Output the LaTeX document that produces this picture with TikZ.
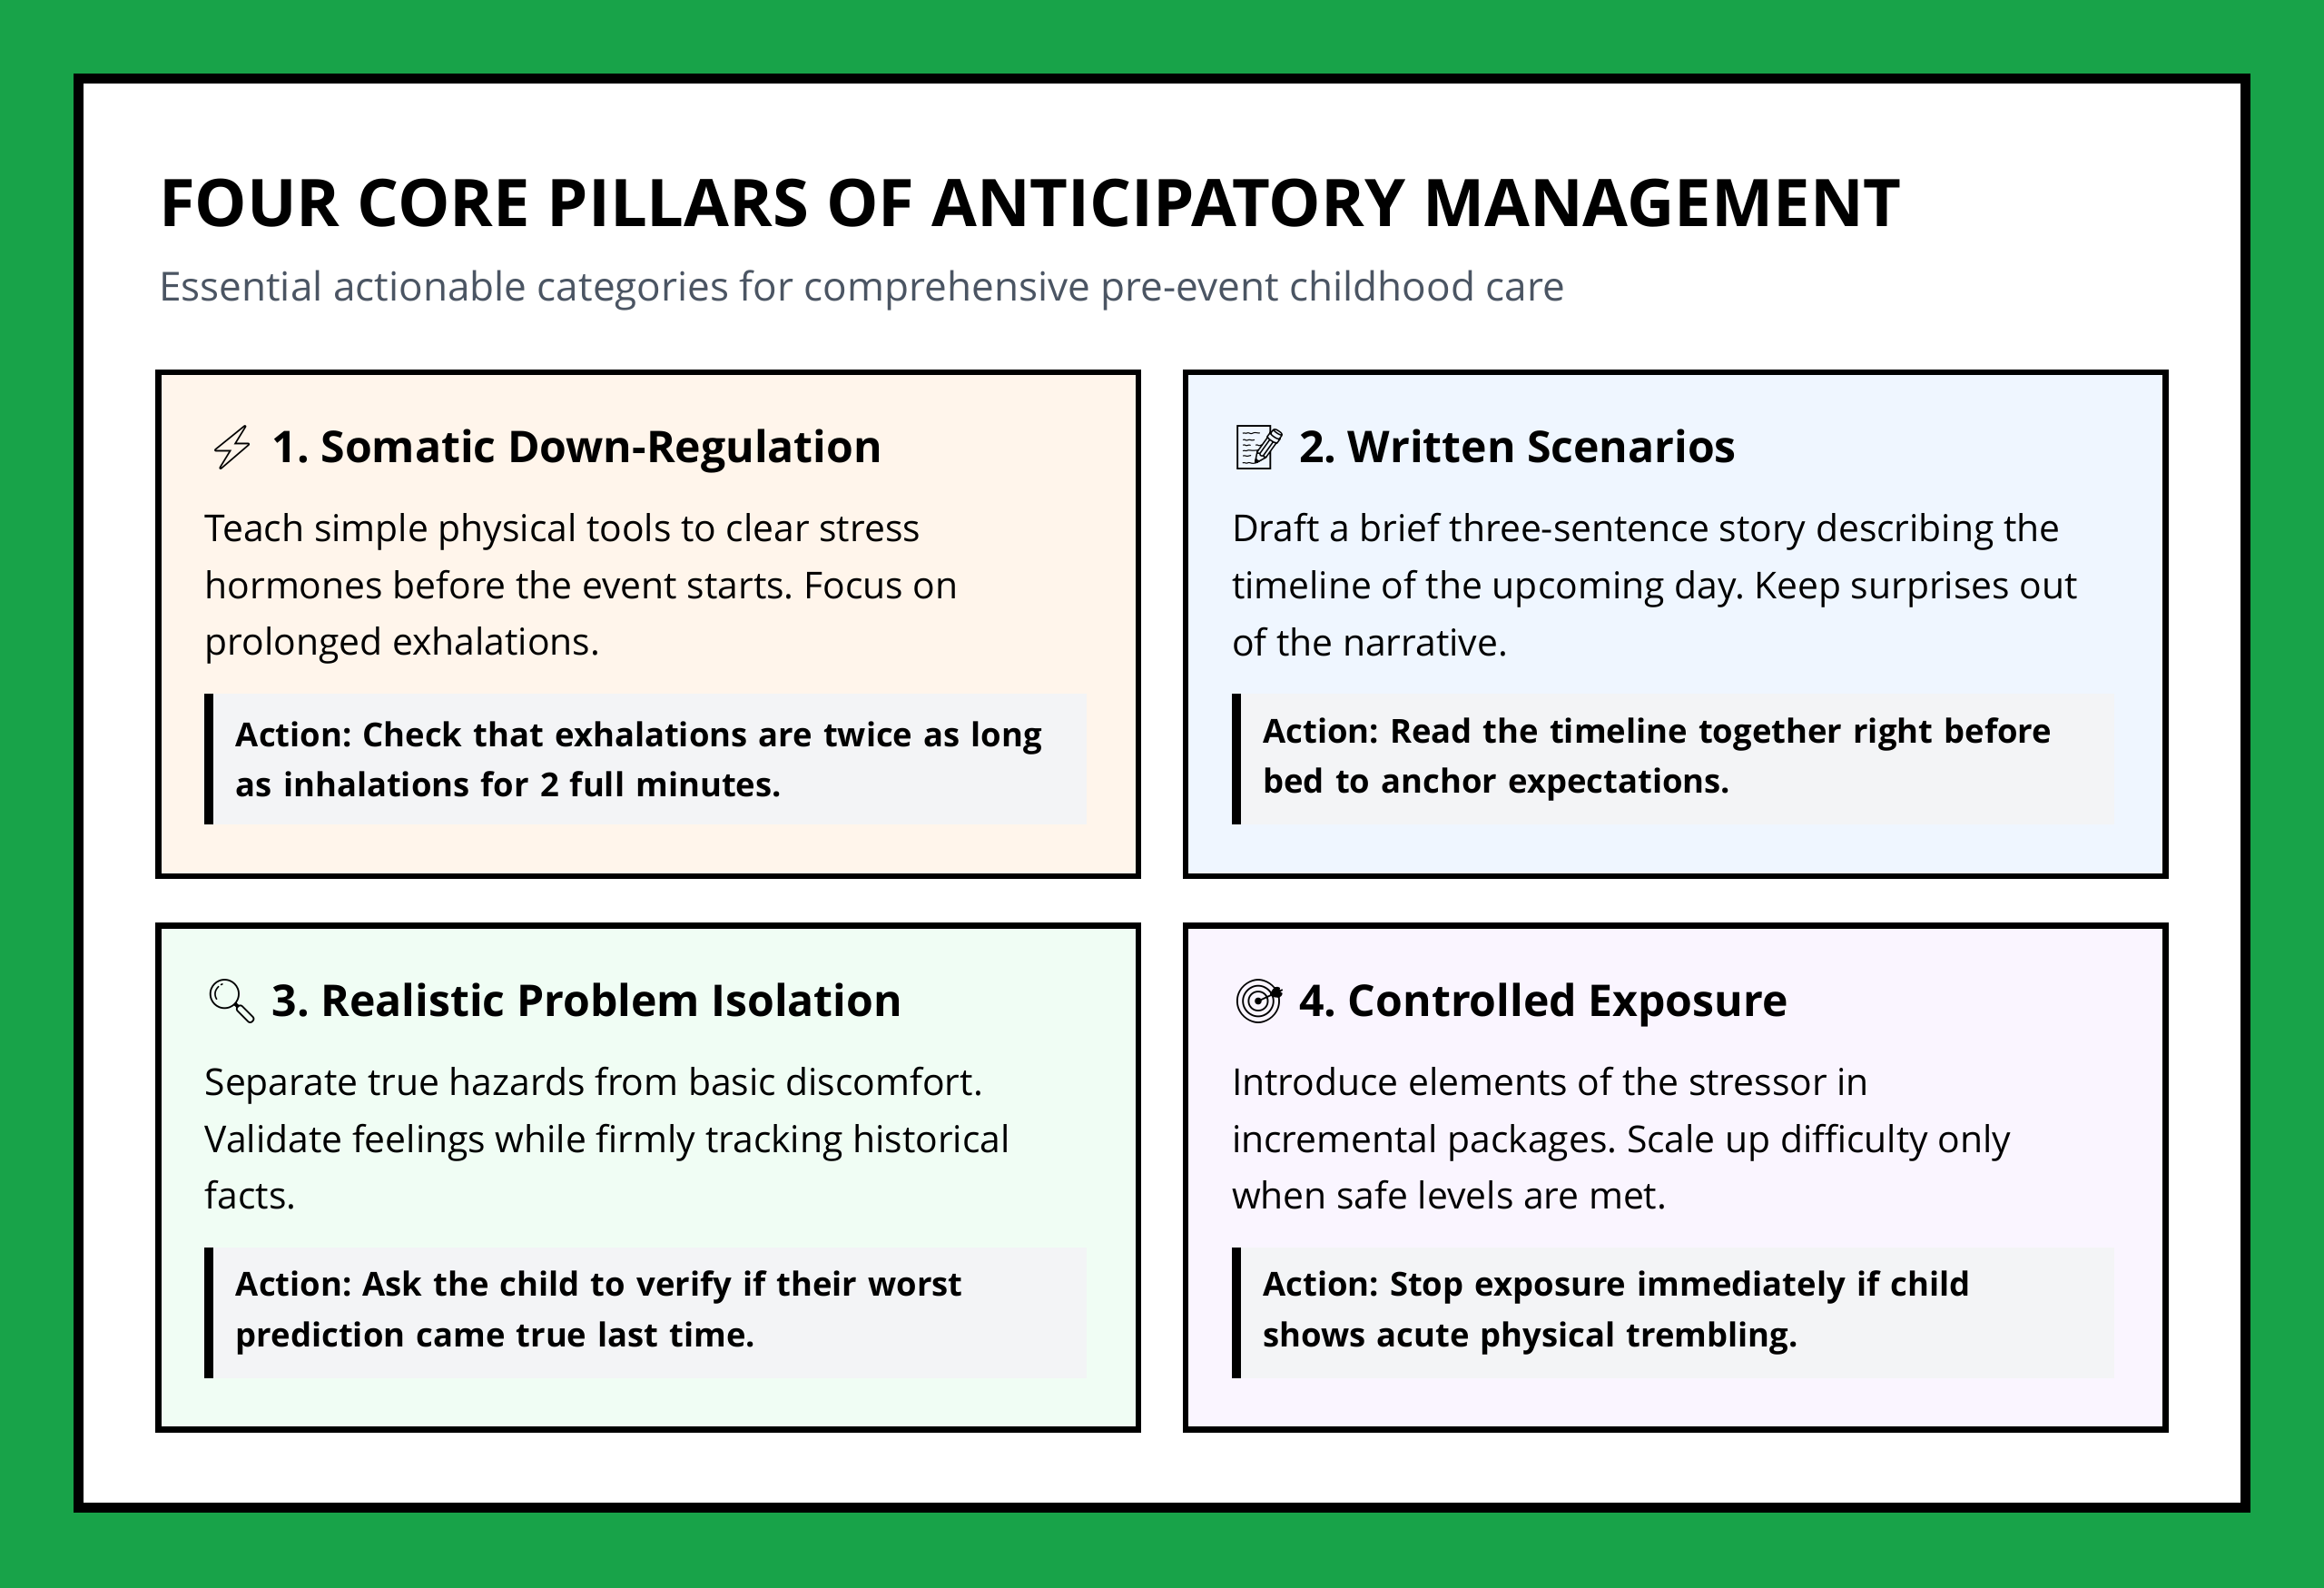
\documentclass[tikz,border=0pt]{standalone}
\usepackage{fontspec}
\setmainfont{Open Sans}
\newfontfamily\emojifont{Noto Emoji}
\frenchspacing
\usetikzlibrary{positioning}
\definecolor{pagegreen}{HTML}{18A349}
\definecolor{subgray}{HTML}{4B5563}
\definecolor{actiongray}{HTML}{F3F4F6}
\definecolor{peachfill}{HTML}{FFF5EB}
\definecolor{bluefill}{HTML}{EFF6FF}
\definecolor{greenfill}{HTML}{F0FDF4}
\definecolor{lilacfill}{HTML}{FAF5FF}
\newcommand{\pillar}[6]{%
  % #1 name, #2 fill, #3 emoji, #4 heading, #5 body, #6 action
  \node[card, fill=#2] (#1) at (#1pos) {};
  \node[head, anchor=base west] (#1h) at ([shift={(33,63)}]#1.north west) {{\emojifont #3}\hspace{8pt}#4};
  \node[body, anchor=north west] (#1b) at ([shift={(33,97)}]#1.north west) {#5};
  \node[actbox, anchor=north west] (#1a) at ([shift={(33,219)}]#1.north west) {#6};
  \draw[line width=6pt] ([xshift=3pt]#1a.north west) -- ([xshift=3pt]#1a.south west);
}
\begin{document}
\begin{tikzpicture}[x=1pt, y=-1pt,
    card/.style={draw, line width=4pt, minimum width=661pt, minimum height=340pt, inner sep=0pt},
    head/.style={font=\fontsize{29.5}{34}\selectfont\bfseries, inner sep=0pt},
    body/.style={font=\fontsize{25}{38.5}\selectfont, align=left, inner sep=0pt},
    actbox/.style={fill=actiongray, text width=565pt, align=left, minimum height=88pt,
      font=\fontsize{22.3}{34}\selectfont\bfseries, inner xsep=15pt, inner ysep=0pt,
      execute at begin node={\hspace*{6pt}}}
  ]
  \fill[pagegreen] (0,0) rectangle (1568,1071);
  \draw[fill=white, line width=7pt] (53,53) rectangle (1515,1017);
  \node[anchor=base west, inner sep=0pt, font=\fontsize{44.3}{50}\selectfont\bfseries] (title) at (107,153)
    {FOUR CORE PILLARS OF ANTICIPATORY MANAGEMENT};
  \node[anchor=base west, inner sep=0pt, text=subgray, font=\fontsize{27}{30}\selectfont] (subtitle) at (107,203)
    {Essential actionable categories for comprehensive pre-event childhood care};
  \coordinate (ppos) at (437.5,421);
  \coordinate (wpos) at (1130.5,421);
  \coordinate (rpos) at (437.5,794.5);
  \coordinate (cpos) at (1130.5,794.5);
  \pillar{p}{peachfill}{⚡}{1. Somatic Down-Regulation}
    {Teach simple physical tools to clear stress\\hormones before the event starts. Focus on\\prolonged exhalations.}
    {Action: Check that exhalations are twice as long\\\hspace*{6pt}as inhalations for 2 full minutes.}
  \pillar{w}{bluefill}{📝}{2. Written Scenarios}
    {Draft a brief three-sentence story describing the\\timeline of the upcoming day. Keep surprises out\\of the narrative.}
    {Action: Read the timeline together right before\\\hspace*{6pt}bed to anchor expectations.}
  \pillar{r}{greenfill}{🔍}{3. Realistic Problem Isolation}
    {Separate true hazards from basic discomfort.\\Validate feelings while firmly tracking historical\\facts.}
    {Action: Ask the child to verify if their worst\\\hspace*{6pt}prediction came true last time.}
  \pillar{c}{lilacfill}{🎯}{4. Controlled Exposure}
    {Introduce elements of the stressor in\\incremental packages. Scale up difficulty only\\when safe levels are met.}
    {Action: Stop exposure immediately if child\\\hspace*{6pt}shows acute physical trembling.}
\end{tikzpicture}
\end{document}
